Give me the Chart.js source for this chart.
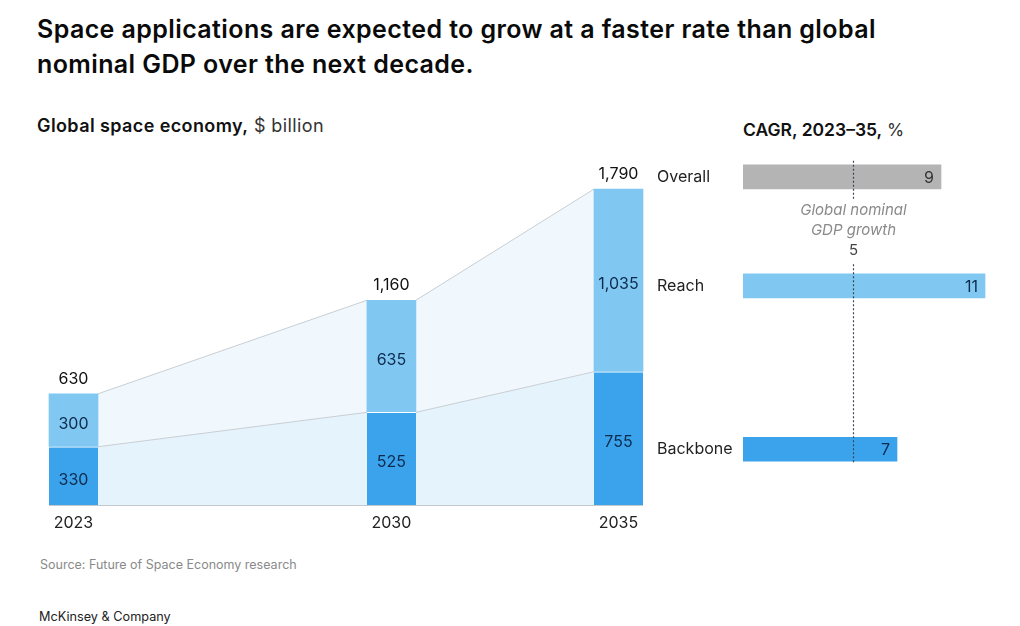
<!DOCTYPE html>
<html>
<head>
<meta charset="utf-8">
<script src="https://cdn.jsdelivr.net/npm/chart.js@4.4.1/dist/chart.umd.min.js"></script>
<style>
  body { margin: 0; width: 1020px; height: 626px; background: #fff; font-family: Inter, "Liberation Sans", sans-serif; color: #111; position: relative; overflow: hidden; }
  .abs { position: absolute; white-space: nowrap; }
  #title { left: 37px; top: 12px; font-size: 25px; letter-spacing: 0.4px; font-weight: 600; line-height: 35px; color: #0a0a0a; }
  #subLeft { left: 37px; top: 115px; font-size: 18px; letter-spacing: 0.4px; }
  #subRight { left: 743px; top: 119px; font-size: 17.5px; }
  b { font-weight: 600; }
  .reg { font-weight: 400; color: #333; }
  #source { left: 40px; top: 557px; font-size: 12.5px; color: #8a8a8a; }
  #brand { left: 39px; top: 609px; font-size: 12.7px; color: #222; }
  #leftWrap { left: 0; top: 140px; width: 660px; height: 400px; }
  #rightWrap { left: 650px; top: 140px; width: 370px; height: 350px; }
</style>
</head>
<body>
<div id="title" class="abs">Space applications are expected to grow at a faster rate than global<br>nominal GDP over the next decade.</div>
<div id="subLeft" class="abs"><b>Global space economy,</b> <span class="reg">$ billion</span></div>
<div id="subRight" class="abs"><b>CAGR, 2023–35,</b> <span class="reg">%</span></div>
<div id="source" class="abs">Source: Future of Space Economy research</div>
<div id="brand" class="abs">McKinsey &amp; Company</div>
<div id="leftWrap" class="abs"><canvas id="econ"></canvas></div>
<div id="rightWrap" class="abs"><canvas id="cagr"></canvas></div>

<script>
const years = [2023, 2030, 2035];
const backbone = [330, 525, 755];
const reach = [300, 635, 1035];
const totals = [630, 1160, 1790];

const cagrRows = ["Overall", "Reach", "Backbone"];
const cagrValues = [9, 11, 7];
const gdpGrowth = 5;

const FONT = "Inter, 'Liberation Sans', sans-serif";
const C_BACK = "#3ba3ec";
const C_REACH = "#80c8f1";
const C_GREY = "#b4b4b4";
const NAVY = "#0d2b4e";

// area + lines linking the bars
const connectors = {
    id: "connectors",
    beforeDatasetsDraw(chart) {
        const ctx = chart.ctx;
        const lo = chart.getDatasetMeta(0).data;
        const hi = chart.getDatasetMeta(1).data;
        const base = chart.scales.y.getPixelForValue(0);
        ctx.save();
        for (let i = 0; i < lo.length - 1; i++) {
            const r = lo[i].x + lo[i].width / 2;
            const l = lo[i + 1].x - lo[i + 1].width / 2;
            ctx.fillStyle = "#e5f3fc";
            ctx.beginPath();
            ctx.moveTo(r, base); ctx.lineTo(r, lo[i].y); ctx.lineTo(l, lo[i + 1].y); ctx.lineTo(l, base);
            ctx.closePath(); ctx.fill();
            ctx.fillStyle = "#f0f8fe";
            ctx.beginPath();
            ctx.moveTo(r, lo[i].y); ctx.lineTo(r, hi[i].y); ctx.lineTo(l, hi[i + 1].y); ctx.lineTo(l, lo[i + 1].y);
            ctx.closePath(); ctx.fill();
            ctx.strokeStyle = "#c9ced3";
            ctx.lineWidth = 1;
            ctx.beginPath();
            ctx.moveTo(r, hi[i].y); ctx.lineTo(l, hi[i + 1].y);
            ctx.moveTo(r, lo[i].y); ctx.lineTo(l, lo[i + 1].y);
            ctx.stroke();
        }
        // baseline
        const first = lo[0], last = lo[lo.length - 1];
        ctx.strokeStyle = "#c4c9ce";
        ctx.beginPath();
        ctx.moveTo(first.x - first.width / 2, base + 0.5);
        ctx.lineTo(last.x + last.width / 2, base + 0.5);
        ctx.stroke();
        ctx.restore();
    },
    afterDatasetsDraw(chart) {
        const ctx = chart.ctx;
        ctx.save();
        ctx.font = "16px " + FONT;
        ctx.textAlign = "center";
        ctx.textBaseline = "middle";
        [0, 1].forEach(d => {
            chart.getDatasetMeta(d).data.forEach((bar, i) => {
                const v = chart.data.datasets[d].data[i].y;
                ctx.fillStyle = NAVY;
                ctx.fillText(v.toLocaleString("en-US"), bar.x, (bar.y + bar.base) / 2 + 4);
            });
        });
        chart.getDatasetMeta(1).data.forEach((bar, i) => {
            ctx.fillStyle = "#111";
            ctx.fillText(totals[i].toLocaleString("en-US"), bar.x, bar.y - 15);
        });
        ctx.restore();
    }
};

new Chart(document.getElementById("econ"), {
    type: "bar",
    data: {
        datasets: [
            { label: "Backbone", data: years.map((x, i) => ({ x, y: backbone[i] })), backgroundColor: C_BACK,
              borderColor: "#ffffff", borderWidth: { top: 1 }, borderSkipped: false, clip: false },
            { label: "Reach", data: years.map((x, i) => ({ x, y: reach[i] })), backgroundColor: C_REACH, clip: false }
        ]
    },
    plugins: [connectors],
    options: {
        responsive: true,
        maintainAspectRatio: false,
        animation: false,
        barThickness: 49,
        layout: { padding: { left: 73.5, right: 41.5, top: 12, bottom: 0 } },
        plugins: { legend: { display: false }, tooltip: { enabled: false } },
        scales: {
            x: {
                type: "linear", stacked: true, offset: false, min: years[0], max: years[years.length - 1],
                afterBuildTicks: s => { s.ticks = years.map(v => ({ value: v })); },
                afterFit: s => { s.height = 35; },
                grid: { display: false, offset: false }, border: { display: false },
                ticks: { callback: v => String(v), color: "#222", font: { family: FONT, size: 16 }, padding: 1, maxRotation: 0 }
            },
            y: { stacked: true, min: 0, max: 2000, display: false }
        }
    }
});

// right panel: spacer rows keep the bars level with the 2035 labels
const slotRows = ["Overall", "", "Reach", "", "", "Backbone"];
const slotValues = slotRows.map(r => r ? cagrValues[cagrRows.indexOf(r)] : null);
const slotColors = slotRows.map(r => r === "Overall" ? C_GREY : r === "Reach" ? C_REACH : C_BACK);

const gdpLine = {
    id: "gdpLine",
    afterDatasetsDraw(chart) {
        const ctx = chart.ctx;
        const bars = chart.getDatasetMeta(0).data.filter((b, i) => slotValues[i] !== null);
        const x = Math.round(chart.scales.x.getPixelForValue(gdpGrowth)) + 0.5;
        const top0 = bars[0].y - bars[0].height / 2;
        const bot0 = bars[0].y + bars[0].height / 2;
        const top1 = bars[1].y - bars[1].height / 2;
        const botN = bars[2].y + bars[2].height / 2;
        const mid = (bot0 + top1) / 2;
        ctx.save();
        ctx.strokeStyle = "#3a4654";
        ctx.lineWidth = 1.2;
        ctx.setLineDash([2, 2]);
        ctx.beginPath();
        ctx.moveTo(x, top0 - 4); ctx.lineTo(x, mid - 32);
        ctx.moveTo(x, mid + 33); ctx.lineTo(x, botN + 3);
        ctx.stroke();
        ctx.setLineDash([]);
        ctx.textAlign = "center";
        ctx.textBaseline = "middle";
        ctx.fillStyle = "#8a8a8a";
        ctx.font = "italic 15px " + FONT;
        ctx.fillText("Global nominal", x, mid - 21);
        ctx.fillText("GDP growth", x, mid - 1);
        ctx.fillStyle = "#444";
        ctx.font = "15px " + FONT;
        ctx.fillText(String(gdpGrowth), x, mid + 19);
        // values at bar ends
        ctx.font = "16px " + FONT;
        ctx.textAlign = "right";
        chart.getDatasetMeta(0).data.forEach((bar, i) => {
            if (slotValues[i] === null) return;
            ctx.fillStyle = slotRows[i] === "Overall" ? "#333" : NAVY;
            ctx.fillText(String(slotValues[i]), bar.x - 7, bar.y + 1);
        });
        ctx.restore();
    }
};

new Chart(document.getElementById("cagr"), {
    type: "bar",
    data: {
        labels: slotRows,
        datasets: [{ data: slotValues, backgroundColor: slotColors, barThickness: 24 }]
    },
    plugins: [gdpLine],
    options: {
        indexAxis: "y",
        responsive: true,
        maintainAspectRatio: false,
        animation: false,
        layout: { padding: { left: 7, right: 13, top: 6.5, bottom: 13.5 } },
        plugins: { legend: { display: false }, tooltip: { enabled: false } },
        scales: {
            x: { min: 0, max: 12, display: false },
            y: {
                afterFit: s => { s.width = 86; },
                grid: { display: false }, border: { display: false },
                ticks: { crossAlign: "far", color: "#222", font: { family: FONT, size: 16 }, padding: 0 }
            }
        }
    }
});
</script>
</body>
</html>
